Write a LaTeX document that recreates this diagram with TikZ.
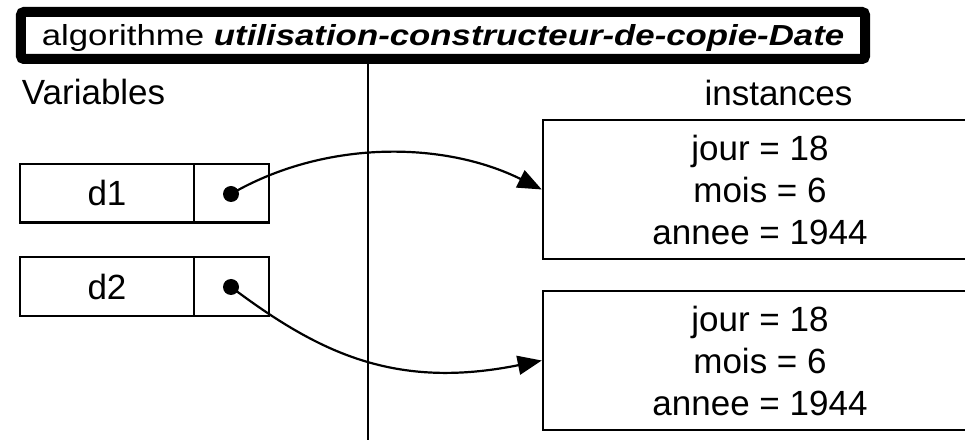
\documentclass[tikz,border=0pt]{standalone}
\usepackage{graphicx}
\usepackage{fontspec}
\setmainfont{Liberation Sans}
\usetikzlibrary{arrows.meta}
\begin{document}
\begin{tikzpicture}[x=1bp,y=-1bp,
  txt/.style={font=\fontsize{35bp}{42bp}\selectfont, inner sep=0pt},
  titlebox/.style={draw, line width=10bp, rounded corners=3bp, fill=white,
    minimum width=844bp, minimum height=47bp, inner sep=0pt,
    text height=26bp, text depth=5.6bp},
  cell/.style={draw, line width=2.5bp, minimum height=58.7bp, inner sep=0pt,
    font=\fontsize{35bp}{42bp}\selectfont},
  inst/.style={draw, line width=2.5bp, minimum width=434bp, minimum height=139bp,
    inner sep=0pt, align=center, font=\fontsize{35bp}{42bp}\selectfont},
  ptrdot/.style={circle, fill=black, inner sep=0pt, minimum size=16bp},
  ptr/.style={line width=2.2bp, -{Triangle[length=24bp,width=19bp]}},
  sep/.style={line width=2bp}
]
\useasboundingbox (0,0) rectangle (965,440);
\clip (0,0) rectangle (965,440);
\fill[white] (0,0) rectangle (965,440);

% separator line
\coordinate (vtop) at (367.7,59);
\coordinate (vbot) at (367.7,445);
\draw[sep] (vtop) -- (vbot);

% title
\node[titlebox] (title) at (443,35.5)
  {\scalebox{1.2}[1]{\fontsize{29bp}{35bp}\selectfont algorithme \textbf{\textit{utilisation-constructeur-de-copie-Date}}}};

% labels
\node[txt, anchor=base west] (varlabel) at (21.7,105) {Variables};
\node[txt, anchor=base] (instlabel) at (778.5,106) {instances};

% variables
\node[cell, minimum width=174bp] (d1name) at (107,193.4) {d1};
\node[cell, minimum width=75bp] (d1ptr) at (231.5,193.4) {};
\node[cell, minimum width=174bp] (d2name) at (107,286.5) {d2};
\node[cell, minimum width=75bp] (d2ptr) at (231.5,286.5) {};

% instances
\node[inst] (inst1) at (760,189.5) {jour = 18\\mois = 6\\annee = 1944};
\node[inst] (inst2) at (760,360.5) {jour = 18\\mois = 6\\annee = 1944};

% pointers
\node[ptrdot] (dot1) at (231,194) {};
\node[ptrdot] (dot2) at (231,287) {};
\draw[ptr] (dot1.center) .. controls (325,139.5) and (444,141) .. (inst1.west);
\draw[ptr] (dot2.center) .. controls (319,353) and (395,390) .. (inst2.west);
\end{tikzpicture}
\end{document}
